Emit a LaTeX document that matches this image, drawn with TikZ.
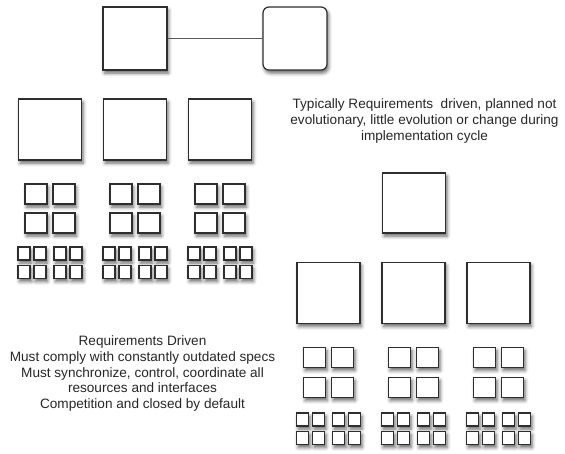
\documentclass[tikz,border=0pt]{standalone}
\usepackage{fontspec}
\setmainfont{Liberation Sans}
\usetikzlibrary{shadows.blur}

% One tier block: a row of three large boxes, each with four medium and
% eight small boxes below it.
% #1 prefix, #2 x of first column, #3 y big, #4/#5 y of medium rows,
% #6/#7 y of small rows
\newcommand\tierblock[7]{%
  \foreach \g in {0,1,2}{%
    \pgfmathsetmacro\gx{#2+85*\g}%
    \node[bigbox] (#1-\g) at (\gx,#3) {};
    \foreach \dx [count=\i] in {-14,14}{%
      \node[midbox] (#1-\g-ma\i) at (\gx+\dx,#4) {};
      \node[midbox] (#1-\g-mb\i) at (\gx+\dx,#5) {};
    }
    \foreach \dx [count=\i] in {-26,-10,10,26}{%
      \node[smallbox] (#1-\g-sa\i) at (\gx+\dx,#6) {};
      \node[smallbox] (#1-\g-sb\i) at (\gx+\dx,#7) {};
    }
  }%
}

\begin{document}
\begin{tikzpicture}[x=1pt,y=-1pt,
  unit/.style={draw=black!82, line width=1.2pt, fill=white, inner sep=0pt,
    blur shadow={shadow xshift=1.5pt, shadow yshift=-3pt,
      shadow blur radius=3.5pt, shadow opacity=60}},
  bigbox/.style={unit, minimum width=63pt, minimum height=61pt},
  midbox/.style={unit, minimum width=22pt, minimum height=20pt},
  smallbox/.style={unit, minimum width=12pt, minimum height=13pt},
  link/.style={draw=black!65, line width=1.1pt},
  note/.style={align=center, font=\fontsize{13.6}{15.8}\selectfont,
    text=black!85, inner sep=0pt}
]
\useasboundingbox (0,0) rectangle (565,453);

% top pair
\node[unit, minimum width=64pt, minimum height=63pt] (ta) at (135,38.5) {};
\node[unit, rounded corners=6pt, minimum width=64pt, minimum height=63pt] (tb) at (295,38.5) {};
\draw[link] (ta) -- (tb);

% left hierarchy
\tierblock{L}{50}{129.5}{194}{223}{253.5}{272}

% right hierarchy with its root box
\node[bigbox, minimum height=60pt] (root) at (414,203) {};
\tierblock{R}{328.5}{293}{357.5}{387.5}{419.5}{438}

% notes
\node[note] (n1) at (424.5,121) {Typically Requirements\ \ driven, planned not\\
  evolutionary, little evolution or change during\\ implementation cycle};
\node[note] (n2) at (142.5,373.5) {Requirements Driven\\
  Must comply with constantly outdated specs\\
  Must synchronize, control, coordinate all\\
  resources and interfaces\\
  Competition and closed by default};
\end{tikzpicture}
\end{document}
